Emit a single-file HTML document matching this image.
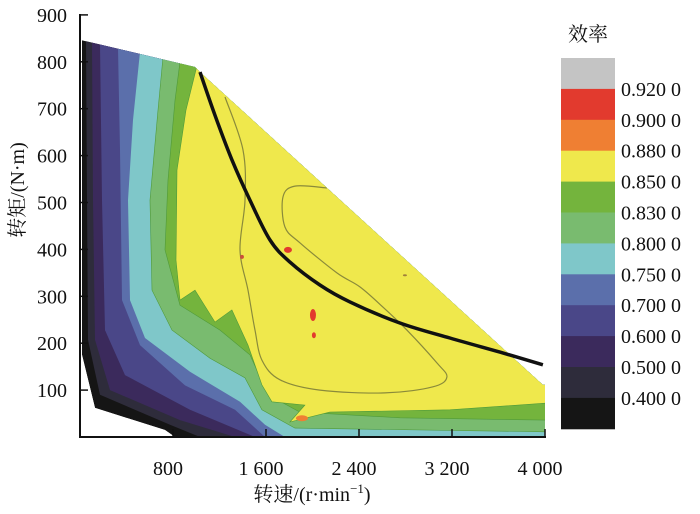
<!DOCTYPE html>
<html><head><meta charset="utf-8"><style>
body{margin:0;background:#fff;width:700px;height:509px;overflow:hidden}
svg text{font-family:"Liberation Serif","Noto Serif CJK SC",serif;fill:#111}
</style></head><body>
<svg id="chart" width="700" height="509" viewBox="0 0 700 509" xmlns="http://www.w3.org/2000/svg">
<defs><clipPath id="env"><polygon id="envpoly"/></clipPath></defs>
<g id="bands" clip-path="url(#env)"></g>
<g id="lines"></g>
<g id="axes"></g>
<g id="legend"></g>
</svg>
<script>
// data (rpm, N·m)
const envelope=[[17,846],[989,789],[1032,778],[3982,111],[4000,111],[4000,0],[817,0],[731,15],[129,62],[17,175]];
const bandColors=["#151515","#2e2c3b","#3b2a5c","#4a4788","#5b6fab","#7fc7c9","#79bb6f","#74b43d","#efe84c"];
const c1=[[52,846],[60,505],[69,207],[172,90],[774,26],[1032,0]];
const c2=[[103,842],[112,505],[129,207],[258,100],[860,36],[1333,0]];
const c3=[[172,838],[189,505],[215,228],[387,132],[946,58],[1505,0]];
const c4=[[327,829],[344,612],[361,292],[516,196],[903,110],[1333,58],[1591,0]];
const c5=[[516,821],[456,676],[413,505],[430,292],[559,211],[946,139],[1376,75],[1591,26],[1763,0]];
const c6=[[714,810],[671,697],[602,505],[619,313],[791,228],[1118,168],[1419,126],[1565,58],[1849,19],[3999,11]];
const c7=[[860,800],[817,718],[757,548],[731,399],[860,281],[1204,228],[1462,175],[1617,90],[1892,53],[2752,41],[3999,36]];
const c8=[[1006,791],[912,697],[834,569],[826,377],[860,292],[989,313],[1161,245],[1307,271],[1445,196],[1565,111],[1651,75],[1935,68],[1806,32],[2150,53],[3182,58],[3999,72]];
const contourLine=[[1247,725],[1402,612],[1419,505],[1376,399],[1445,313],[1505,228],[1565,164],[1720,122],[2064,100],[2623,94],[3036,107],[3156,128],[3070,158],[2812,228],[2606,277],[2408,320],[2210,350],[1892,414],[1763,448],[1746,512],[1849,535],[2124,531]];
const externalChar=[[1032,778],[1161,686],[1307,591],[1462,505],[1634,420],[1806,373],[2064,324],[2322,288],[2752,243],[3182,211],[3612,181],[3982,154]];
const hotSpots=[[1789,399,4,3,"#e23a2e"],[2004,260,3,6,"#e23a2e"],[2012,217,2,3,"#e23a2e"],[1393,384,2,2,"#c9503a"],[1909,40,6,3,"#ef7f33"],[2795,345,2,1,"#a0803a"]];
const yTicks=[100,200,300,400,500,600,700,800,900];
const xTicks=[800,1600,2400,3200,4000];
const xTickLabels=["800","1 600","2 400","3 200","4 000"];
const legendColors=["#c4c4c4","#e23a2e","#ef7f33","#efe84c","#74b43d","#79bb6f","#7fc7c9","#5b6fab","#4a4788","#3b2a5c","#2e2c3b","#151515"];
const legendLabels=["0.920 0","0.900 0","0.880 0","0.850 0","0.830 0","0.800 0","0.750 0","0.700 0","0.600 0","0.500 0","0.400 0"];

const X=r=>80+r*0.11625, Y=t=>437-t*0.469;
const NS="http://www.w3.org/2000/svg";
function mk(tag,attrs,parent){const e=document.createElementNS(NS,tag);for(const k in attrs)e.setAttribute(k,attrs[k]);parent.appendChild(e);return e;}
const pts=a=>a.map(p=>X(p[0]).toFixed(1)+","+Y(p[1]).toFixed(1)).join(" ");
function smooth(a){
  const p=a.map(q=>[X(q[0]),Y(q[1])]);
  let d="M"+p[0][0].toFixed(1)+","+p[0][1].toFixed(1);
  for(let i=0;i<p.length-1;i++){
    const p0=p[Math.max(0,i-1)],p1=p[i],p2=p[i+1],p3=p[Math.min(p.length-1,i+2)];
    const a1=[p1[0]+(p2[0]-p0[0])/6,p1[1]+(p2[1]-p0[1])/6];
    const a2=[p2[0]-(p3[0]-p1[0])/6,p2[1]-(p3[1]-p1[1])/6];
    d+=" C"+a1.map(v=>v.toFixed(1)).join(",")+" "+a2.map(v=>v.toFixed(1)).join(",")+" "+p2[0].toFixed(1)+","+p2[1].toFixed(1);
  }
  return d;
}
document.getElementById("envpoly").setAttribute("points",pts(envelope));
const bands=document.getElementById("bands");
let e=mk("polygon",{points:pts(envelope),fill:bandColors[0]},bands);


[c1,c2,c3,c4,c5,c6,c7,c8].forEach((c,i)=>{
  const last=c[c.length-1];
  const p=c.concat([[4100,last[1]],[4100,950],[c[0][0],950]]);
  const el=mk("polygon",{points:pts(p),fill:bandColors[i+1],stroke:i>=5?"#4f9a3a":"none","stroke-width":0.6},bands);
  
  
});
const lines=document.getElementById("lines");
let cl=mk("path",{d:smooth(contourLine),fill:"none",stroke:"#8a8a3a","stroke-width":1.2},bands);


hotSpots.forEach((h,i)=>{
  const s=mk("ellipse",{cx:X(h[0]),cy:Y(h[1]),rx:h[2],ry:h[3],fill:h[4]},bands);
  
  
});
let ec=mk("path",{d:smooth(externalChar),fill:"none",stroke:"#111","stroke-width":3.5,"stroke-linejoin":"round"},lines);



const axes=document.getElementById("axes");
let ya=mk("line",{x1:80,y1:14,x2:80,y2:438,stroke:"#111","stroke-width":2},axes);


let xa=mk("line",{x1:79,y1:437,x2:546,y2:437,stroke:"#111","stroke-width":2},axes);


yTicks.forEach(t=>{
  mk("line",{x1:80,y1:Y(t),x2:88,y2:Y(t),stroke:"#111","stroke-width":1.5},axes);
  const tx=mk("text",{x:67,y:Y(t)+7,"text-anchor":"end","font-size":20},axes);
  tx.textContent=t;
  
  
});
xTicks.forEach((t,i)=>{
  mk("line",{x1:X(t),y1:437,x2:X(t),y2:429,stroke:"#111","stroke-width":1.5},axes);
  const tx=mk("text",{x:X(t)-5,y:475,"text-anchor":"middle","font-size":20},axes);
  tx.textContent=xTickLabels[i];
  
  
});
let xt=mk("text",{x:312,y:501,"text-anchor":"middle","font-size":20},axes);
xt.innerHTML='转速/(r·min<tspan font-size="13" dy="-8">−1</tspan><tspan dy="8">)</tspan>';


let yt=mk("text",{x:0,y:0,"text-anchor":"middle","font-size":20,transform:"translate(24,190) rotate(-90)"},axes);
yt.textContent="转矩/(N·m)";



const lg=document.getElementById("legend");
let lt=mk("text",{x:588,y:41,"text-anchor":"middle","font-size":20},lg);
lt.textContent="效率";


const segH=30.9;
legendColors.forEach((c,i)=>{
  const r=mk("rect",{x:561,y:58+i*segH,width:54,height:segH+0.5,fill:c},lg);
  
  
});
legendLabels.forEach((l,i)=>{
  const tx=mk("text",{x:621,y:58+(i+1)*segH+7,"font-size":20},lg);
  tx.textContent=l;
  
  
});
</script>
</body></html>
